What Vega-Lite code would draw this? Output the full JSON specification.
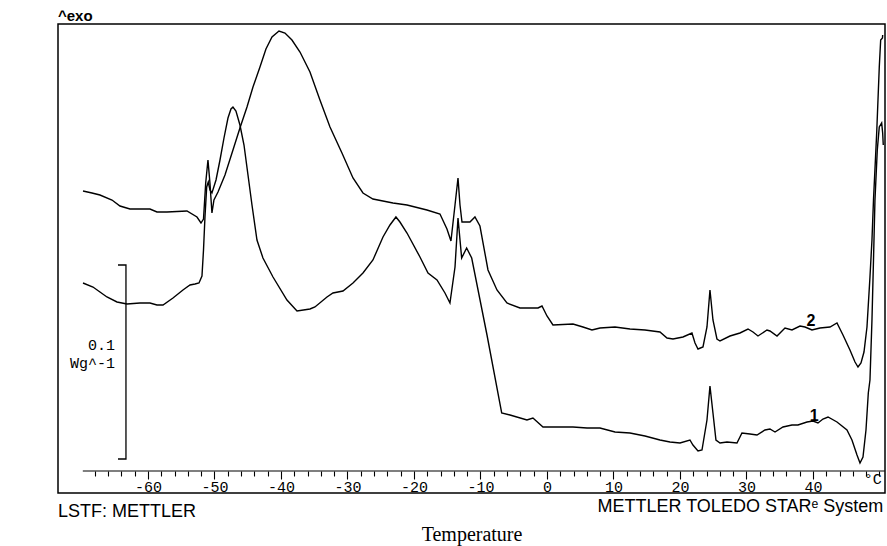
{
  "$schema": "https://vega.github.io/schema/vega-lite/v6.json",
  "width": 827,
  "height": 469,
  "autosize": {"type": "none"},
  "padding": {"left": 58, "top": 24, "right": 2, "bottom": 53},
  "background": "white",
  "config": {"view": {"stroke": "black", "strokeWidth": 1.5}, "axis": {"grid": false}},
  "resolve": {"axis": {"x": "independent"}},
  "datasets": {
    "curves": [
      {"curve":"2","temperature":-69.77,"heat_flow":3.02},{"curve":"2","temperature":-68.42,"heat_flow":3.00},{"curve":"2","temperature":-67.22,"heat_flow":2.98},{"curve":"2","temperature":-65.41,"heat_flow":2.93},{"curve":"2","temperature":-64.21,"heat_flow":2.87},{"curve":"2","temperature":-62.71,"heat_flow":2.84},{"curve":"2","temperature":-59.70,"heat_flow":2.84},{"curve":"2","temperature":-58.65,"heat_flow":2.81},{"curve":"2","temperature":-57.14,"heat_flow":2.81},{"curve":"2","temperature":-54.14,"heat_flow":2.82},{"curve":"2","temperature":-52.63,"heat_flow":2.76},{"curve":"2","temperature":-52.03,"heat_flow":2.70},{"curve":"2","temperature":-51.65,"heat_flow":2.74},{"curve":"2","temperature":-51.32,"heat_flow":3.10},{"curve":"2","temperature":-50.98,"heat_flow":3.33},{"curve":"2","temperature":-50.68,"heat_flow":3.10},{"curve":"2","temperature":-50.38,"heat_flow":2.80},{"curve":"2","temperature":-50.08,"heat_flow":2.93},{"curve":"2","temperature":-49.47,"heat_flow":3.01},{"curve":"2","temperature":-48.42,"heat_flow":3.18},{"curve":"2","temperature":-47.22,"heat_flow":3.43},{"curve":"2","temperature":-46.17,"heat_flow":3.65},{"curve":"2","temperature":-45.11,"heat_flow":3.86},{"curve":"2","temperature":-44.21,"heat_flow":4.06},{"curve":"2","temperature":-43.16,"heat_flow":4.26},{"curve":"2","temperature":-42.26,"heat_flow":4.44},{"curve":"2","temperature":-41.35,"heat_flow":4.56},{"curve":"2","temperature":-40.30,"heat_flow":4.62},{"curve":"2","temperature":-39.40,"heat_flow":4.60},{"curve":"2","temperature":-38.35,"heat_flow":4.53},{"curve":"2","temperature":-37.14,"heat_flow":4.41},{"curve":"2","temperature":-35.64,"heat_flow":4.21},{"curve":"2","temperature":-34.14,"heat_flow":3.93},{"curve":"2","temperature":-32.63,"heat_flow":3.66},{"curve":"2","temperature":-30.83,"heat_flow":3.40},{"curve":"2","temperature":-29.17,"heat_flow":3.15},{"curve":"2","temperature":-27.67,"heat_flow":3.00},{"curve":"2","temperature":-26.17,"heat_flow":2.94},{"curve":"2","temperature":-23.16,"heat_flow":2.90},{"curve":"2","temperature":-21.05,"heat_flow":2.88},{"curve":"2","temperature":-18.05,"heat_flow":2.83},{"curve":"2","temperature":-16.09,"heat_flow":2.79},{"curve":"2","temperature":-15.04,"heat_flow":2.64},{"curve":"2","temperature":-14.44,"heat_flow":2.52},{"curve":"2","temperature":-13.83,"heat_flow":2.88},{"curve":"2","temperature":-13.38,"heat_flow":3.15},{"curve":"2","temperature":-13.08,"heat_flow":2.88},{"curve":"2","temperature":-12.78,"heat_flow":2.71},{"curve":"2","temperature":-11.58,"heat_flow":2.71},{"curve":"2","temperature":-10.83,"heat_flow":2.76},{"curve":"2","temperature":-10.08,"heat_flow":2.67},{"curve":"2","temperature":-8.87,"heat_flow":2.23},{"curve":"2","temperature":-7.52,"heat_flow":2.03},{"curve":"2","temperature":-6.02,"heat_flow":1.90},{"curve":"2","temperature":-4.06,"heat_flow":1.85},{"curve":"2","temperature":-1.35,"heat_flow":1.85},{"curve":"2","temperature":-0.75,"heat_flow":1.87},{"curve":"2","temperature":0.00,"heat_flow":1.77},{"curve":"2","temperature":0.90,"heat_flow":1.68},{"curve":"2","temperature":3.91,"heat_flow":1.69},{"curve":"2","temperature":5.41,"heat_flow":1.66},{"curve":"2","temperature":6.77,"heat_flow":1.63},{"curve":"2","temperature":7.97,"heat_flow":1.65},{"curve":"2","temperature":10.23,"heat_flow":1.66},{"curve":"2","temperature":12.48,"heat_flow":1.64},{"curve":"2","temperature":14.74,"heat_flow":1.63},{"curve":"2","temperature":16.99,"heat_flow":1.61},{"curve":"2","temperature":18.05,"heat_flow":1.55},{"curve":"2","temperature":18.95,"heat_flow":1.54},{"curve":"2","temperature":20.45,"heat_flow":1.56},{"curve":"2","temperature":21.80,"heat_flow":1.60},{"curve":"2","temperature":22.26,"heat_flow":1.50},{"curve":"2","temperature":22.71,"heat_flow":1.44},{"curve":"2","temperature":23.46,"heat_flow":1.46},{"curve":"2","temperature":24.06,"heat_flow":1.66},{"curve":"2","temperature":24.51,"heat_flow":2.03},{"curve":"2","temperature":24.96,"heat_flow":1.73},{"curve":"2","temperature":25.56,"heat_flow":1.54},{"curve":"2","temperature":26.02,"heat_flow":1.52},{"curve":"2","temperature":27.52,"heat_flow":1.57},{"curve":"2","temperature":29.02,"heat_flow":1.60},{"curve":"2","temperature":30.23,"heat_flow":1.64},{"curve":"2","temperature":30.98,"heat_flow":1.61},{"curve":"2","temperature":31.73,"heat_flow":1.57},{"curve":"2","temperature":33.08,"heat_flow":1.63},{"curve":"2","temperature":33.53,"heat_flow":1.62},{"curve":"2","temperature":34.59,"heat_flow":1.57},{"curve":"2","temperature":35.79,"heat_flow":1.65},{"curve":"2","temperature":36.84,"heat_flow":1.63},{"curve":"2","temperature":38.05,"heat_flow":1.67},{"curve":"2","temperature":38.80,"heat_flow":1.66},{"curve":"2","temperature":39.85,"heat_flow":1.63},{"curve":"2","temperature":41.05,"heat_flow":1.65},{"curve":"2","temperature":42.56,"heat_flow":1.66},{"curve":"2","temperature":43.61,"heat_flow":1.70},{"curve":"2","temperature":44.51,"heat_flow":1.58},{"curve":"2","temperature":45.56,"heat_flow":1.43},{"curve":"2","temperature":46.32,"heat_flow":1.31},{"curve":"2","temperature":46.77,"heat_flow":1.26},{"curve":"2","temperature":47.22,"heat_flow":1.30},{"curve":"2","temperature":47.67,"heat_flow":1.41},{"curve":"2","temperature":48.12,"heat_flow":1.66},{"curve":"2","temperature":48.57,"heat_flow":2.16},{"curve":"2","temperature":48.87,"heat_flow":2.53},{"curve":"2","temperature":49.10,"heat_flow":2.93},{"curve":"2","temperature":49.58,"heat_flow":3.60},{"curve":"2","temperature":49.97,"heat_flow":4.26},{"curve":"2","temperature":50.18,"heat_flow":4.53},{"curve":"2","temperature":50.45,"heat_flow":4.55},{"curve":"2","temperature":50.48,"heat_flow":4.58},
      {"curve":"1","temperature":-69.77,"heat_flow":2.10},{"curve":"1","temperature":-68.27,"heat_flow":2.06},{"curve":"1","temperature":-67.22,"heat_flow":2.01},{"curve":"1","temperature":-66.17,"heat_flow":1.96},{"curve":"1","temperature":-64.66,"heat_flow":1.91},{"curve":"1","temperature":-63.16,"heat_flow":1.89},{"curve":"1","temperature":-61.20,"heat_flow":1.90},{"curve":"1","temperature":-59.70,"heat_flow":1.90},{"curve":"1","temperature":-58.65,"heat_flow":1.88},{"curve":"1","temperature":-57.74,"heat_flow":1.88},{"curve":"1","temperature":-56.24,"heat_flow":1.95},{"curve":"1","temperature":-54.74,"heat_flow":2.03},{"curve":"1","temperature":-53.68,"heat_flow":2.08},{"curve":"1","temperature":-52.93,"heat_flow":2.09},{"curve":"1","temperature":-52.33,"heat_flow":2.10},{"curve":"1","temperature":-51.88,"heat_flow":2.17},{"curve":"1","temperature":-51.65,"heat_flow":2.43},{"curve":"1","temperature":-51.43,"heat_flow":2.76},{"curve":"1","temperature":-51.17,"heat_flow":3.06},{"curve":"1","temperature":-50.93,"heat_flow":3.11},{"curve":"1","temperature":-50.68,"heat_flow":3.03},{"curve":"1","temperature":-50.38,"heat_flow":3.00},{"curve":"1","temperature":-49.77,"heat_flow":3.13},{"curve":"1","temperature":-49.17,"heat_flow":3.33},{"curve":"1","temperature":-48.57,"heat_flow":3.55},{"curve":"1","temperature":-47.97,"heat_flow":3.75},{"curve":"1","temperature":-47.52,"heat_flow":3.84},{"curve":"1","temperature":-47.22,"heat_flow":3.86},{"curve":"1","temperature":-46.77,"heat_flow":3.82},{"curve":"1","temperature":-46.17,"heat_flow":3.68},{"curve":"1","temperature":-45.56,"heat_flow":3.48},{"curve":"1","temperature":-44.96,"heat_flow":3.18},{"curve":"1","temperature":-44.36,"heat_flow":2.88},{"curve":"1","temperature":-43.61,"heat_flow":2.53},{"curve":"1","temperature":-42.71,"heat_flow":2.35},{"curve":"1","temperature":-41.20,"heat_flow":2.16},{"curve":"1","temperature":-39.10,"heat_flow":1.93},{"curve":"1","temperature":-37.59,"heat_flow":1.82},{"curve":"1","temperature":-35.64,"heat_flow":1.84},{"curve":"1","temperature":-34.89,"heat_flow":1.86},{"curve":"1","temperature":-33.08,"heat_flow":1.96},{"curve":"1","temperature":-32.18,"heat_flow":2.00},{"curve":"1","temperature":-30.68,"heat_flow":2.02},{"curve":"1","temperature":-29.17,"heat_flow":2.10},{"curve":"1","temperature":-27.67,"heat_flow":2.20},{"curve":"1","temperature":-26.17,"heat_flow":2.33},{"curve":"1","temperature":-24.66,"heat_flow":2.56},{"curve":"1","temperature":-23.61,"heat_flow":2.68},{"curve":"1","temperature":-22.71,"heat_flow":2.76},{"curve":"1","temperature":-22.11,"heat_flow":2.71},{"curve":"1","temperature":-21.05,"heat_flow":2.60},{"curve":"1","temperature":-19.10,"heat_flow":2.36},{"curve":"1","temperature":-17.89,"heat_flow":2.20},{"curve":"1","temperature":-16.54,"heat_flow":2.13},{"curve":"1","temperature":-15.34,"heat_flow":2.00},{"curve":"1","temperature":-14.59,"heat_flow":1.90},{"curve":"1","temperature":-13.83,"heat_flow":2.26},{"curve":"1","temperature":-13.38,"heat_flow":2.75},{"curve":"1","temperature":-12.83,"heat_flow":2.35},{"curve":"1","temperature":-12.08,"heat_flow":2.45},{"curve":"1","temperature":-11.32,"heat_flow":2.35},{"curve":"1","temperature":-9.02,"heat_flow":1.58},{"curve":"1","temperature":-6.81,"heat_flow":0.80},{"curve":"1","temperature":-5.56,"heat_flow":0.78},{"curve":"1","temperature":-3.01,"heat_flow":0.73},{"curve":"1","temperature":-2.11,"heat_flow":0.75},{"curve":"1","temperature":-0.60,"heat_flow":0.66},{"curve":"1","temperature":1.50,"heat_flow":0.66},{"curve":"1","temperature":3.91,"heat_flow":0.66},{"curve":"1","temperature":6.02,"heat_flow":0.65},{"curve":"1","temperature":7.97,"heat_flow":0.65},{"curve":"1","temperature":10.23,"heat_flow":0.61},{"curve":"1","temperature":12.48,"heat_flow":0.60},{"curve":"1","temperature":14.74,"heat_flow":0.57},{"curve":"1","temperature":16.99,"heat_flow":0.53},{"curve":"1","temperature":18.50,"heat_flow":0.51},{"curve":"1","temperature":20.00,"heat_flow":0.50},{"curve":"1","temperature":21.50,"heat_flow":0.53},{"curve":"1","temperature":21.95,"heat_flow":0.48},{"curve":"1","temperature":22.71,"heat_flow":0.42},{"curve":"1","temperature":23.31,"heat_flow":0.43},{"curve":"1","temperature":24.06,"heat_flow":0.73},{"curve":"1","temperature":24.51,"heat_flow":1.07},{"curve":"1","temperature":24.96,"heat_flow":0.80},{"curve":"1","temperature":25.41,"heat_flow":0.53},{"curve":"1","temperature":26.02,"heat_flow":0.50},{"curve":"1","temperature":27.07,"heat_flow":0.51},{"curve":"1","temperature":28.57,"heat_flow":0.50},{"curve":"1","temperature":29.32,"heat_flow":0.60},{"curve":"1","temperature":30.53,"heat_flow":0.59},{"curve":"1","temperature":31.58,"heat_flow":0.58},{"curve":"1","temperature":32.78,"heat_flow":0.63},{"curve":"1","temperature":33.53,"heat_flow":0.64},{"curve":"1","temperature":34.29,"heat_flow":0.61},{"curve":"1","temperature":35.49,"heat_flow":0.66},{"curve":"1","temperature":36.84,"heat_flow":0.68},{"curve":"1","temperature":37.74,"heat_flow":0.68},{"curve":"1","temperature":39.10,"heat_flow":0.71},{"curve":"1","temperature":40.00,"heat_flow":0.72},{"curve":"1","temperature":40.75,"heat_flow":0.70},{"curve":"1","temperature":41.50,"heat_flow":0.74},{"curve":"1","temperature":42.26,"heat_flow":0.76},{"curve":"1","temperature":43.61,"heat_flow":0.71},{"curve":"1","temperature":45.11,"heat_flow":0.63},{"curve":"1","temperature":45.86,"heat_flow":0.53},{"curve":"1","temperature":46.62,"heat_flow":0.38},{"curve":"1","temperature":47.07,"heat_flow":0.30},{"curve":"1","temperature":47.52,"heat_flow":0.36},{"curve":"1","temperature":47.97,"heat_flow":0.63},{"curve":"1","temperature":48.32,"heat_flow":1.00},{"curve":"1","temperature":48.57,"heat_flow":1.13},{"curve":"1","temperature":48.87,"heat_flow":1.73},{"curve":"1","temperature":49.10,"heat_flow":2.33},{"curve":"1","temperature":49.32,"heat_flow":2.93},{"curve":"1","temperature":49.67,"heat_flow":3.43},{"curve":"1","temperature":49.97,"heat_flow":3.66},{"curve":"1","temperature":50.33,"heat_flow":3.70},{"curve":"1","temperature":50.48,"heat_flow":3.60},{"curve":"1","temperature":50.57,"heat_flow":3.48}
    ],
    "bracket": [
      {"temperature":-64.51,"heat_flow":2.28,"order":1},
      {"temperature":-63.31,"heat_flow":2.28,"order":2},
      {"temperature":-63.31,"heat_flow":0.34,"order":3},
      {"temperature":-64.51,"heat_flow":0.34,"order":4}
    ],
    "curveLabels": [
      {"curve":"1","temperature":40.2,"heat_flow":0.77},
      {"curve":"2","temperature":39.7,"heat_flow":1.72}
    ]
  },
  "layer": [
    {
      "data": {"name": "curves"},
      "mark": {"type": "line", "color": "black", "strokeWidth": 1.4},
      "encoding": {
        "x": {
          "field": "temperature", "type": "quantitative",
          "scale": {"domain": [-73.53, 50.83], "nice": false, "zero": false},
          "axis": {
            "orient": "bottom", "offset": -22, "domain": false,
            "values": [-60,-50,-40,-30,-20,-10,0,10,20,30,40],
            "tickColor": "black", "tickWidth": 1.1, "tickSize": 8,
            "labelExpr": "'' + datum.value",
            "labelFont": "Liberation Mono", "labelFontSize": 15, "labelColor": "black",
            "labelPadding": 0, "labelOverlap": false, "labelFlush": false,
            "title": "Temperature", "titleFont": "Liberation Serif", "titleFontSize": 20,
            "titleFontWeight": "normal", "titleColor": "black", "titleY": 69, "titleBaseline": "alphabetic"
          }
        },
        "y": {
          "field": "heat_flow", "type": "quantitative",
          "scale": {"domain": [0, 4.69], "nice": false, "zero": false},
          "axis": {
            "domain": false, "ticks": false, "labels": false, "grid": false,
            "title": "mW", "titleFont": "Liberation Serif", "titleFontSize": 19,
            "titleFontWeight": "normal", "titleColor": "black",
            "titleX": -35, "titleY": 42, "titleAngle": 270, "titleAlign": "center", "titleBaseline": "middle"
          }
        },
        "detail": {"field": "curve", "type": "nominal"}
      }
    },
    {
      "data": {"name": "bracket"},
      "mark": {"type": "line", "color": "black", "strokeWidth": 1.3},
      "encoding": {
        "x": {
          "field": "temperature", "type": "quantitative",
          "axis": {
            "orient": "bottom", "offset": -22, "domain": false,
            "values": [-68,-66,-64,-62,-58,-56,-54,-52,-48,-46,-44,-42,-38,-36,-34,-32,-28,-26,-24,-22,-18,-16,-14,-12,-8,-6,-4,-2,2,4,6,8,12,14,16,18,22,24,26,28,32,34,36,38,42,44,46,48,50],
            "tickColor": "black", "tickWidth": 1.1, "tickSize": 5,
            "labels": false, "title": null
          }
        },
        "y": {"field": "heat_flow", "type": "quantitative", "axis": null},
        "order": {"field": "order", "type": "quantitative"}
      }
    },
    {
      "data": {"values": [{}]},
      "mark": {"type": "rule", "color": "black", "strokeWidth": 1.2},
      "encoding": {"x": {"datum": -69.8, "axis": null}, "x2": {"datum": 50.8}, "y": {"datum": 0.22, "axis": null}}
    },
    {
      "data": {"name": "curveLabels"},
      "mark": {"type": "text", "font": "Liberation Sans", "fontSize": 16, "fontWeight": "bold", "color": "black", "baseline": "middle", "align": "center"},
      "encoding": {
        "x": {"field": "temperature", "type": "quantitative", "axis": null},
        "y": {"field": "heat_flow", "type": "quantitative", "axis": null},
        "text": {"field": "curve"}
      }
    },
    {
      "data": {"values": [{}]},
      "mark": {"type": "text", "text": "^exo", "font": "Liberation Sans", "fontSize": 15, "fontWeight": "bold", "color": "black", "align": "left", "baseline": "alphabetic"},
      "encoding": {"x": {"datum": -73.53, "axis": null}, "y": {"datum": 4.72, "axis": null}}
    },
    {
      "data": {"values": [{}]},
      "mark": {"type": "text", "text": "LSTF: METTLER", "font": "Liberation Sans", "fontSize": 18, "color": "black", "align": "left", "baseline": "alphabetic"},
      "encoding": {"x": {"datum": -73.53, "axis": null}, "y": {"datum": -0.24, "axis": null}}
    },
    {
      "data": {"values": [{}]},
      "mark": {"type": "text", "text": "METTLER TOLEDO STARᵉ System", "font": "Liberation Sans", "fontSize": 18, "color": "black", "align": "right", "baseline": "alphabetic"},
      "encoding": {"x": {"datum": 50.57, "axis": null}, "y": {"datum": -0.19, "axis": null}}
    },
    {
      "data": {"values": [{}]},
      "mark": {"type": "text", "text": "°C", "font": "Liberation Mono", "fontSize": 15, "color": "black", "align": "center", "baseline": "alphabetic"},
      "encoding": {"x": {"datum": 49, "axis": null}, "y": {"datum": 0.09, "axis": null}}
    },
    {
      "data": {"values": [{}]},
      "mark": {"type": "text", "text": "0.1", "font": "Liberation Mono", "fontSize": 15, "color": "black", "align": "right", "baseline": "alphabetic"},
      "encoding": {"x": {"datum": -64.96, "axis": null}, "y": {"datum": 1.43, "axis": null}}
    },
    {
      "data": {"values": [{}]},
      "mark": {"type": "text", "text": "Wg^-1", "font": "Liberation Mono", "fontSize": 15, "color": "black", "align": "right", "baseline": "alphabetic"},
      "encoding": {"x": {"datum": -64.96, "axis": null}, "y": {"datum": 1.25, "axis": null}}
    }
  ]
}
